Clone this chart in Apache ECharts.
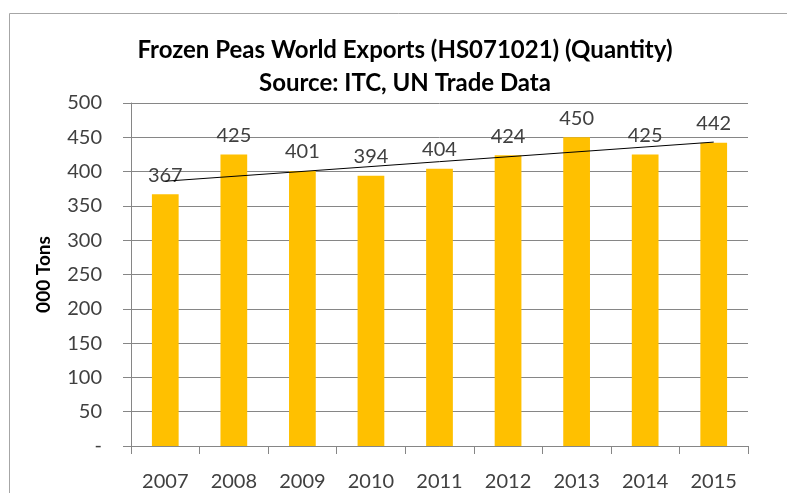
<!DOCTYPE html>
<html>
<head>
<meta charset="utf-8">
<script src="https://cdn.jsdelivr.net/npm/echarts@6/dist/echarts.min.js"></script>
<style>
  html, body { margin: 0; padding: 0; background: #fff; }
  #chart { width: 787px; height: 493px; }
</style>
</head>
<body>
<div id="chart"></div>
<script>
// Frozen peas world exports by year, in thousand tons
const years = ['2007', '2008', '2009', '2010', '2011', '2012', '2013', '2014', '2015'];
const exportsQty = [367, 425, 401, 394, 404, 424, 450, 425, 442];
// Linear trend line end points (first and last year)
const trendEnds = [386, 443];
const yTicks = [0, 50, 100, 150, 200, 250, 300, 350, 400, 450, 500];

const FONT = 'Lato, "Open Sans", sans-serif';
const chart = echarts.init(document.getElementById('chart'), null, { renderer: 'canvas' });

chart.setOption({
  animation: false,
  backgroundColor: '#fff',
  graphic: [{
    type: 'rect',
    shape: { x: 9.5, y: 13.5, width: 800, height: 500 },
    style: { fill: 'none', stroke: '#a6a6a6', lineWidth: 1 },
    silent: true
  }],
  title: {
    text: 'Frozen Peas World Exports (HS071021) (Quantity)\nSource: ITC, UN Trade Data',
    left: 400,
    textAlign: 'center',
    top: 29,
    textStyle: {
      fontFamily: FONT, fontWeight: 'bold', fontSize: 24, lineHeight: 33, color: '#000'
    }
  },
  grid: { left: 131, top: 103, right: 39, bottom: 47 },
  xAxis: {
    type: 'category',
    data: years,
    axisLine: { lineStyle: { color: '#868686', width: 1 } },
    axisTick: { show: true, alignWithLabel: false, length: 8, lineStyle: { color: '#868686' } },
    axisLabel: { fontFamily: FONT, fontSize: 20, color: '#404040', margin: 26 }
  },
  yAxis: {
    type: 'value',
    min: yTicks[0],
    max: yTicks[yTicks.length - 1],
    interval: 50,
    name: '000 Tons',
    nameLocation: 'middle',
    nameGap: 78,
    nameRotate: 90,
    nameTextStyle: { fontFamily: FONT, fontWeight: 'bold', fontSize: 19, color: '#000' },
    axisLine: { show: true, lineStyle: { color: '#868686', width: 1 } },
    axisTick: { show: true, length: 8, lineStyle: { color: '#868686' } },
    splitLine: { lineStyle: { color: '#868686', width: 1 } },
    axisLabel: {
      fontFamily: FONT, fontSize: 20, color: '#404040', margin: 29,
      formatter: v => (v === 0 ? '-' : String(v))
    }
  },
  series: [
    {
      type: 'bar',
      data: exportsQty,
      barWidth: '39%',
      itemStyle: { color: '#FFC000' },
      label: {
        show: true, position: 'top', distance: 9,
        fontFamily: FONT, fontSize: 20, color: '#404040'
      },
      z: 2
    },
    {
      type: 'line',
      data: [[years[0], trendEnds[0]], [years[years.length - 1], trendEnds[1]]],
      symbol: 'none',
      lineStyle: { color: '#000', width: 1 },
      z: 3
    }
  ]
});
</script>
</body>
</html>
